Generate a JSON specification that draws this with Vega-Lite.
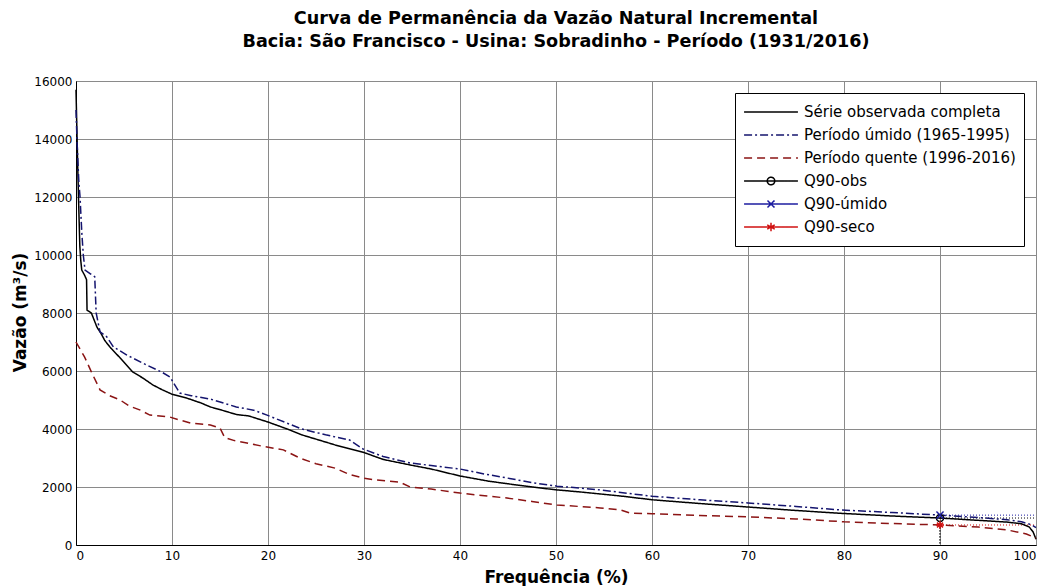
{
  "$schema": "https://vega.github.io/schema/vega-lite/v6.json",
  "width": 960,
  "height": 464,
  "autosize": {"type": "none"},
  "padding": {"left": 76, "top": 81, "right": 9, "bottom": 41},
  "background": "white",
  "title": {
    "text": ["Curva de Permanência da Vazão Natural Incremental", "Bacia: São Francisco - Usina: Sobradinho - Período (1931/2016)"],
    "font": "DejaVu Sans", "fontSize": 17.6, "fontWeight": "bold", "color": "black",
    "lineHeight": 23, "offset": 24, "anchor": "middle"
  },
  "config": {
    "view": {"stroke": "black", "strokeWidth": 1},
    "axis": {
      "labelFont": "DejaVu Sans", "labelFontSize": 12, "labelColor": "black",
      "titleFont": "DejaVu Sans", "titleFontSize": 17, "titleFontWeight": "bold", "titleColor": "black",
      "grid": true, "gridColor": "#8a8a8a", "gridWidth": 1, "gridOpacity": 1,
      "domainColor": "black", "domainWidth": 1, "ticks": false
    }
  },
  "resolve": {"legend": {"color": "independent", "strokeDash": "independent", "shape": "independent"}},
  "datasets": {
    "curves": [
      {"serie": "Série observada completa", "freq": 0, "vazao": 15700},
      {"serie": "Série observada completa", "freq": 0.1, "vazao": 14200},
      {"serie": "Série observada completa", "freq": 0.2, "vazao": 12800},
      {"serie": "Série observada completa", "freq": 0.3, "vazao": 11500},
      {"serie": "Série observada completa", "freq": 0.4, "vazao": 10300},
      {"serie": "Série observada completa", "freq": 0.5, "vazao": 9800},
      {"serie": "Série observada completa", "freq": 0.6, "vazao": 9480},
      {"serie": "Série observada completa", "freq": 0.9, "vazao": 9300},
      {"serie": "Série observada completa", "freq": 1.1, "vazao": 9150},
      {"serie": "Série observada completa", "freq": 1.15, "vazao": 8100},
      {"serie": "Série observada completa", "freq": 1.6, "vazao": 8000},
      {"serie": "Série observada completa", "freq": 2.2, "vazao": 7500},
      {"serie": "Série observada completa", "freq": 2.6, "vazao": 7300},
      {"serie": "Série observada completa", "freq": 3.0, "vazao": 7050},
      {"serie": "Série observada completa", "freq": 3.6, "vazao": 6800},
      {"serie": "Série observada completa", "freq": 4.6, "vazao": 6450},
      {"serie": "Série observada completa", "freq": 5.9, "vazao": 5970},
      {"serie": "Série observada completa", "freq": 7.0, "vazao": 5750},
      {"serie": "Série observada completa", "freq": 8.0, "vazao": 5520},
      {"serie": "Série observada completa", "freq": 9.0, "vazao": 5350},
      {"serie": "Série observada completa", "freq": 10.0, "vazao": 5200},
      {"serie": "Série observada completa", "freq": 11.5, "vazao": 5070},
      {"serie": "Série observada completa", "freq": 13.0, "vazao": 4900},
      {"serie": "Série observada completa", "freq": 14.0, "vazao": 4760},
      {"serie": "Série observada completa", "freq": 15.5, "vazao": 4620},
      {"serie": "Série observada completa", "freq": 16.7, "vazao": 4500},
      {"serie": "Série observada completa", "freq": 18.0, "vazao": 4450},
      {"serie": "Série observada completa", "freq": 20.0, "vazao": 4240},
      {"serie": "Série observada completa", "freq": 22.0, "vazao": 4000},
      {"serie": "Série observada completa", "freq": 23.5, "vazao": 3800},
      {"serie": "Série observada completa", "freq": 25.0, "vazao": 3650},
      {"serie": "Série observada completa", "freq": 27.0, "vazao": 3450},
      {"serie": "Série observada completa", "freq": 29.9, "vazao": 3200},
      {"serie": "Série observada completa", "freq": 32.0, "vazao": 2950},
      {"serie": "Série observada completa", "freq": 34.8, "vazao": 2760},
      {"serie": "Série observada completa", "freq": 37.0, "vazao": 2620},
      {"serie": "Série observada completa", "freq": 40.0, "vazao": 2380},
      {"serie": "Série observada completa", "freq": 43.0, "vazao": 2200},
      {"serie": "Série observada completa", "freq": 45.9, "vazao": 2070},
      {"serie": "Série observada completa", "freq": 48.0, "vazao": 1980},
      {"serie": "Série observada completa", "freq": 50.1, "vazao": 1900},
      {"serie": "Série observada completa", "freq": 52.5, "vazao": 1830},
      {"serie": "Série observada completa", "freq": 54.6, "vazao": 1760},
      {"serie": "Série observada completa", "freq": 57.0, "vazao": 1680},
      {"serie": "Série observada completa", "freq": 60.0, "vazao": 1560},
      {"serie": "Série observada completa", "freq": 65.0, "vazao": 1430},
      {"serie": "Série observada completa", "freq": 70.0, "vazao": 1310},
      {"serie": "Série observada completa", "freq": 75.0, "vazao": 1190},
      {"serie": "Série observada completa", "freq": 79.8, "vazao": 1090},
      {"serie": "Série observada completa", "freq": 85.0, "vazao": 1000},
      {"serie": "Série observada completa", "freq": 90.0, "vazao": 930},
      {"serie": "Série observada completa", "freq": 94.0, "vazao": 850},
      {"serie": "Série observada completa", "freq": 97.0, "vazao": 790},
      {"serie": "Série observada completa", "freq": 98.5, "vazao": 730},
      {"serie": "Série observada completa", "freq": 99.3, "vazao": 620},
      {"serie": "Série observada completa", "freq": 99.7, "vazao": 450},
      {"serie": "Série observada completa", "freq": 100, "vazao": 200},

      {"serie": "Período úmido (1965-1995)", "freq": 0, "vazao": 15000},
      {"serie": "Período úmido (1965-1995)", "freq": 0.1, "vazao": 14000},
      {"serie": "Período úmido (1965-1995)", "freq": 0.2, "vazao": 13200},
      {"serie": "Período úmido (1965-1995)", "freq": 0.3, "vazao": 12500},
      {"serie": "Período úmido (1965-1995)", "freq": 0.42, "vazao": 12000},
      {"serie": "Período úmido (1965-1995)", "freq": 0.6, "vazao": 10800},
      {"serie": "Período úmido (1965-1995)", "freq": 0.76, "vazao": 10000},
      {"serie": "Período úmido (1965-1995)", "freq": 0.94, "vazao": 9480},
      {"serie": "Período úmido (1965-1995)", "freq": 1.5, "vazao": 9350},
      {"serie": "Período úmido (1965-1995)", "freq": 1.95, "vazao": 9250},
      {"serie": "Período úmido (1965-1995)", "freq": 2.1, "vazao": 8000},
      {"serie": "Período úmido (1965-1995)", "freq": 2.5, "vazao": 7350},
      {"serie": "Período úmido (1965-1995)", "freq": 3.2, "vazao": 7180},
      {"serie": "Período úmido (1965-1995)", "freq": 3.9, "vazao": 6830},
      {"serie": "Período úmido (1965-1995)", "freq": 5.3, "vazao": 6550},
      {"serie": "Período úmido (1965-1995)", "freq": 7.4, "vazao": 6200},
      {"serie": "Período úmido (1965-1995)", "freq": 9.0, "vazao": 5950},
      {"serie": "Período úmido (1965-1995)", "freq": 9.8, "vazao": 5790},
      {"serie": "Período úmido (1965-1995)", "freq": 10.8, "vazao": 5240},
      {"serie": "Período úmido (1965-1995)", "freq": 12.0, "vazao": 5150},
      {"serie": "Período úmido (1965-1995)", "freq": 14.0, "vazao": 5030},
      {"serie": "Período úmido (1965-1995)", "freq": 16.7, "vazao": 4760},
      {"serie": "Período úmido (1965-1995)", "freq": 18.5, "vazao": 4650},
      {"serie": "Período úmido (1965-1995)", "freq": 19.9, "vazao": 4480},
      {"serie": "Período úmido (1965-1995)", "freq": 22.0, "vazao": 4200},
      {"serie": "Período úmido (1965-1995)", "freq": 23.5, "vazao": 4000},
      {"serie": "Período úmido (1965-1995)", "freq": 26.0, "vazao": 3800},
      {"serie": "Período úmido (1965-1995)", "freq": 28.5, "vazao": 3620},
      {"serie": "Período úmido (1965-1995)", "freq": 29.9, "vazao": 3310},
      {"serie": "Período úmido (1965-1995)", "freq": 32.0, "vazao": 3050},
      {"serie": "Período úmido (1965-1995)", "freq": 34.8, "vazao": 2830},
      {"serie": "Período úmido (1965-1995)", "freq": 37.0, "vazao": 2740},
      {"serie": "Período úmido (1965-1995)", "freq": 40.0, "vazao": 2620},
      {"serie": "Período úmido (1965-1995)", "freq": 42.5, "vazao": 2450},
      {"serie": "Período úmido (1965-1995)", "freq": 44.9, "vazao": 2310},
      {"serie": "Período úmido (1965-1995)", "freq": 47.5, "vazao": 2150},
      {"serie": "Período úmido (1965-1995)", "freq": 50.1, "vazao": 2030},
      {"serie": "Período úmido (1965-1995)", "freq": 54.6, "vazao": 1900},
      {"serie": "Período úmido (1965-1995)", "freq": 60.0, "vazao": 1680},
      {"serie": "Período úmido (1965-1995)", "freq": 65.0, "vazao": 1560},
      {"serie": "Período úmido (1965-1995)", "freq": 70.0, "vazao": 1450},
      {"serie": "Período úmido (1965-1995)", "freq": 75.0, "vazao": 1330},
      {"serie": "Período úmido (1965-1995)", "freq": 79.6, "vazao": 1210},
      {"serie": "Período úmido (1965-1995)", "freq": 85.0, "vazao": 1120},
      {"serie": "Período úmido (1965-1995)", "freq": 90.0, "vazao": 1030},
      {"serie": "Período úmido (1965-1995)", "freq": 94.0, "vazao": 950},
      {"serie": "Período úmido (1965-1995)", "freq": 97.0, "vazao": 870},
      {"serie": "Período úmido (1965-1995)", "freq": 98.5, "vazao": 800},
      {"serie": "Período úmido (1965-1995)", "freq": 99.5, "vazao": 700},
      {"serie": "Período úmido (1965-1995)", "freq": 100, "vazao": 600},

      {"serie": "Período quente (1996-2016)", "freq": 0, "vazao": 7000},
      {"serie": "Período quente (1996-2016)", "freq": 0.9, "vazao": 6480},
      {"serie": "Período quente (1996-2016)", "freq": 1.6, "vazao": 5970},
      {"serie": "Período quente (1996-2016)", "freq": 2.5, "vazao": 5350},
      {"serie": "Período quente (1996-2016)", "freq": 3.5, "vazao": 5150},
      {"serie": "Período quente (1996-2016)", "freq": 4.6, "vazao": 5000},
      {"serie": "Período quente (1996-2016)", "freq": 5.5, "vazao": 4800},
      {"serie": "Período quente (1996-2016)", "freq": 6.7, "vazao": 4650},
      {"serie": "Período quente (1996-2016)", "freq": 7.7, "vazao": 4480},
      {"serie": "Período quente (1996-2016)", "freq": 9.8, "vazao": 4410},
      {"serie": "Período quente (1996-2016)", "freq": 10.8, "vazao": 4310},
      {"serie": "Período quente (1996-2016)", "freq": 12.0, "vazao": 4200},
      {"serie": "Período quente (1996-2016)", "freq": 14.0, "vazao": 4140},
      {"serie": "Período quente (1996-2016)", "freq": 15.0, "vazao": 4030},
      {"serie": "Período quente (1996-2016)", "freq": 15.5, "vazao": 3700},
      {"serie": "Período quente (1996-2016)", "freq": 16.5, "vazao": 3600},
      {"serie": "Período quente (1996-2016)", "freq": 17.8, "vazao": 3520},
      {"serie": "Período quente (1996-2016)", "freq": 19.5, "vazao": 3400},
      {"serie": "Período quente (1996-2016)", "freq": 21.6, "vazao": 3280},
      {"serie": "Período quente (1996-2016)", "freq": 23.3, "vazao": 3000},
      {"serie": "Período quente (1996-2016)", "freq": 25.0, "vazao": 2800},
      {"serie": "Período quente (1996-2016)", "freq": 27.0, "vazao": 2650},
      {"serie": "Período quente (1996-2016)", "freq": 28.5, "vazao": 2430},
      {"serie": "Período quente (1996-2016)", "freq": 29.9, "vazao": 2310},
      {"serie": "Período quente (1996-2016)", "freq": 31.0, "vazao": 2250},
      {"serie": "Período quente (1996-2016)", "freq": 33.7, "vazao": 2170},
      {"serie": "Período quente (1996-2016)", "freq": 34.8, "vazao": 2000},
      {"serie": "Período quente (1996-2016)", "freq": 37.0, "vazao": 1930},
      {"serie": "Período quente (1996-2016)", "freq": 40.0, "vazao": 1790},
      {"serie": "Período quente (1996-2016)", "freq": 43.0, "vazao": 1680},
      {"serie": "Período quente (1996-2016)", "freq": 44.9, "vazao": 1620},
      {"serie": "Período quente (1996-2016)", "freq": 47.5, "vazao": 1500},
      {"serie": "Período quente (1996-2016)", "freq": 50.1, "vazao": 1380},
      {"serie": "Período quente (1996-2016)", "freq": 54.6, "vazao": 1280},
      {"serie": "Período quente (1996-2016)", "freq": 56.7, "vazao": 1210},
      {"serie": "Período quente (1996-2016)", "freq": 57.7, "vazao": 1100},
      {"serie": "Período quente (1996-2016)", "freq": 60.0, "vazao": 1080},
      {"serie": "Período quente (1996-2016)", "freq": 65.0, "vazao": 1020},
      {"serie": "Período quente (1996-2016)", "freq": 70.0, "vazao": 970},
      {"serie": "Período quente (1996-2016)", "freq": 75.0, "vazao": 900},
      {"serie": "Período quente (1996-2016)", "freq": 80.0, "vazao": 800},
      {"serie": "Período quente (1996-2016)", "freq": 85.0, "vazao": 740},
      {"serie": "Período quente (1996-2016)", "freq": 90.0, "vazao": 690},
      {"serie": "Período quente (1996-2016)", "freq": 94.0, "vazao": 620},
      {"serie": "Período quente (1996-2016)", "freq": 97.0, "vazao": 520},
      {"serie": "Período quente (1996-2016)", "freq": 99.0, "vazao": 380},
      {"serie": "Período quente (1996-2016)", "freq": 100, "vazao": 240}
    ],
    "q90": [
      {"serie": "Q90-obs", "freq": 90, "vazao": 930},
      {"serie": "Q90-úmido", "freq": 90, "vazao": 1030},
      {"serie": "Q90-seco", "freq": 90, "vazao": 690}
    ]
  },
  "encoding": {
    "x": {
      "field": "freq", "type": "quantitative",
      "scale": {"domain": [0, 100], "nice": false},
      "axis": {"values": [0, 10, 20, 30, 40, 50, 60, 70, 80, 90, 100], "labelPadding": 5, "title": "Frequência (%)", "titleX": 480, "titleY": 32, "titleBaseline": "middle", "titleAlign": "center"}
    },
    "y": {
      "field": "vazao", "type": "quantitative",
      "scale": {"domain": [0, 16000], "nice": false},
      "axis": {"values": [0, 2000, 4000, 6000, 8000, 10000, 12000, 14000, 16000], "format": "d", "labelPadding": 4, "title": "Vazão (m³/s)", "titleX": -56, "titleY": 231, "titleAngle": -90, "titleBaseline": "middle", "titleAlign": "center"}
    }
  },
  "layer": [
    {
      "data": {"name": "q90"},
      "mark": {"type": "rule", "strokeDash": [1, 2], "strokeWidth": 1, "color": "#333333"},
      "encoding": {"y2": {"datum": 0}}
    },
    {
      "data": {"name": "q90"},
      "mark": {"type": "rule", "strokeDash": [1, 2], "strokeWidth": 1},
      "encoding": {
        "x2": {"datum": 100},
        "color": {"field": "serie", "type": "nominal", "legend": null}
      }
    },
    {
      "data": {"name": "curves"},
      "mark": {"type": "line", "strokeWidth": 1.5},
      "encoding": {
        "color": {"field": "serie", "type": "nominal", "legend": null,
          "scale": {"domain": ["Série observada completa", "Período úmido (1965-1995)", "Período quente (1996-2016)", "Q90-obs", "Q90-úmido", "Q90-seco"],
                    "range": ["#000000", "#14146e", "#8b1414", "#000000", "#1c1ca0", "#d01010"]}},
        "strokeDash": {"field": "serie", "type": "nominal", "legend": null,
          "scale": {"domain": ["Série observada completa", "Período úmido (1965-1995)", "Período quente (1996-2016)", "Q90-obs", "Q90-úmido", "Q90-seco"],
                    "range": [[1, 0], [8, 3, 2, 3], [8, 5], [1, 0], [1, 0], [1, 0]]}}
      }
    },
    {
      "data": {"name": "q90"},
      "mark": {"type": "point", "opacity": 0, "filled": false, "strokeWidth": 1.5},
      "encoding": {
        "color": {"field": "serie", "type": "nominal",
          "legend": {"title": null, "orient": "top-right", "offset": 12, "labelFont": "DejaVu Sans", "labelFontSize": 15, "labelColor": "black", "labelLimit": 400,
                     "symbolSize": 2900, "symbolStrokeWidth": 1.5, "symbolOpacity": 1, "clipHeight": 22, "rowPadding": 1, "labelOffset": 5,
                     "padding": 8, "strokeColor": "black", "fillColor": "white"}},
        "shape": {"field": "serie", "type": "nominal",
          "scale": {"domain": ["Série observada completa", "Período úmido (1965-1995)", "Período quente (1996-2016)", "Q90-obs", "Q90-úmido", "Q90-seco"],
                    "range": ["M-1,0L1,0", "M-1,0L1,0", "M-1,0L1,0",
                              "M-1,0L1,0M-0.14,0A0.14,0.14 0 1,0 0.14,0A0.14,0.14 0 1,0 -0.14,0",
                              "M-1,0L1,0M-0.13,-0.13L0.13,0.13M-0.13,0.13L0.13,-0.13",
                              "M-1,0L1,0M0,-0.16L0,0.16M-0.14,-0.08L0.14,0.08M-0.14,0.08L0.14,-0.08"]},
          "legend": {"title": null, "labelLimit": 400}},
        "strokeDash": {"field": "serie", "type": "nominal", "legend": {"title": null, "labelLimit": 400}}
      }
    },
    {
      "data": {"name": "q90"},
      "transform": [{"filter": "datum.serie == 'Q90-obs'"}],
      "mark": {"type": "point", "shape": "circle", "size": 50, "filled": false, "color": "#000000", "strokeWidth": 1.5, "opacity": 1}
    },
    {
      "data": {"name": "q90"},
      "transform": [{"filter": "datum.serie == 'Q90-úmido'"}],
      "mark": {"type": "point", "shape": "M-1,-1L1,1M-1,1L1,-1", "size": 50, "filled": false, "color": "#1c1ca0", "strokeWidth": 1.5, "opacity": 1}
    },
    {
      "data": {"name": "q90"},
      "transform": [{"filter": "datum.serie == 'Q90-seco'"}],
      "mark": {"type": "point", "shape": "M-1,0L1,0M0,-1L0,1M-0.8,-0.6L0.8,0.6M-0.8,0.6L0.8,-0.6", "size": 60, "filled": false, "color": "#d01010", "strokeWidth": 1.5, "opacity": 1}
    }
  ]
}
